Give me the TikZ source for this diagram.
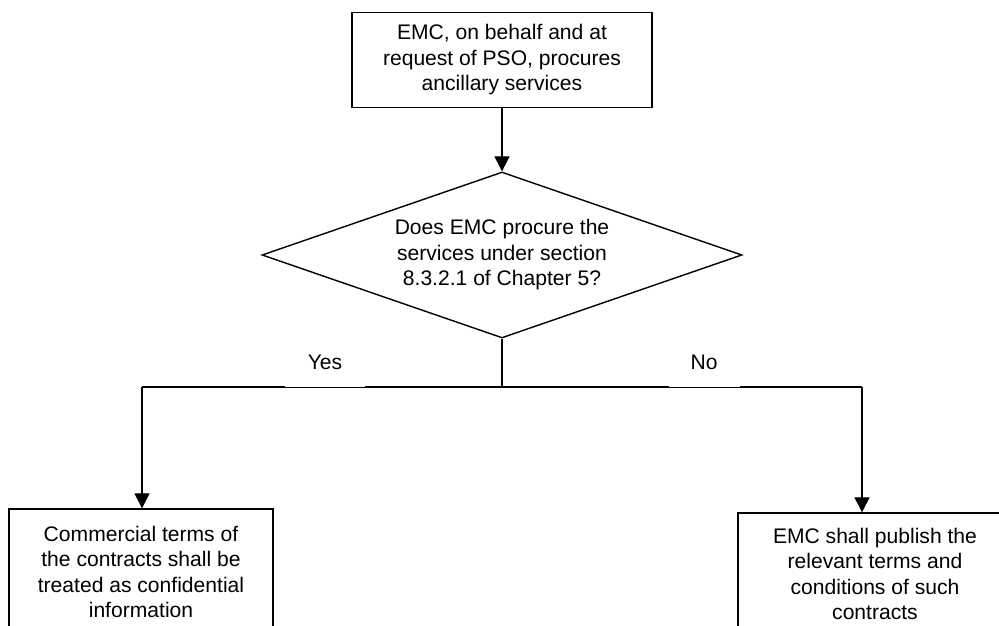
\documentclass[tikz,border=0pt]{standalone}
\usepackage{fontspec}
\setmainfont{Liberation Sans}
\usetikzlibrary{arrows.meta, shapes.geometric, positioning}
\newcommand{\px}{0.03cm}% one pixel of the picture
\tikzset{
  PROC/.style={% Style for process boxes
      rectangle, line width=1.2pt,
      align=center,
      font=\fontsize{18}{21.8}\selectfont,
      inner sep=0pt,
      draw=black,
  },
  DEC/.style={% Style for the decision diamond
      diamond, aspect=2.9, line width=1.2pt,
      align=center,
      font=\fontsize{18}{21.8}\selectfont,
      inner sep=0pt,
      minimum width=480*\px,
      minimum height=166*\px,
      draw=black,
  },
  LBL/.style={% Branch labels, the white fill hides half of the line
      fill=white, inner sep=0pt,
      font=\fontsize{18}{21.8}\selectfont,
      minimum height=48*\px,
      anchor=south,
  },
  LINE/.style={line width=1.2pt},
  FLOW/.style={line width=1.2pt, -{Triangle[width=0.45cm,length=0.45cm]}},
}

\begin{document}
\begin{tikzpicture}[x=\px, y=-\px]
  \useasboundingbox (0,0) rectangle (999,626);
  \clip (0,0) rectangle (999,626);
  % boxes
  \node[PROC, minimum width=300*\px, minimum height=95*\px] (emc) at (502,60)
    {EMC, on behalf and at\\request of PSO, procures\\ancillary services};
  \node[DEC] (sec) at (502,255)
    {Does EMC procure the\\services under section\\8.3.2.1 of Chapter 5?};
  \node[PROC, minimum width=264*\px, minimum height=126*\px] (conf) at (141,572)
    {Commercial terms of\\the contracts shall be\\treated as confidential\\information};
  \node[PROC, minimum width=274*\px, minimum height=122*\px] (pub) at (875,574)
    {EMC shall publish the\\relevant terms and\\conditions of such\\contracts};
  % branch points
  \coordinate (split) at (502,387);
  \coordinate (yesturn) at (142,387);
  \coordinate (noturn) at (862,387);
  % connectors
  \draw[FLOW] (emc) -- (sec);
  \draw[LINE] (sec.south) -- (split);
  \draw[LINE] (yesturn) -- (noturn);
  \draw[FLOW] (yesturn) -- (yesturn |- conf.north);
  \draw[FLOW] (noturn) -- (noturn |- pub.north);
  % labels
  \node[LBL, minimum width=80*\px] (yes) at (325,387) {Yes};
  \node[LBL, minimum width=71*\px] (no) at (704,387) {No};
\end{tikzpicture}
\end{document}
